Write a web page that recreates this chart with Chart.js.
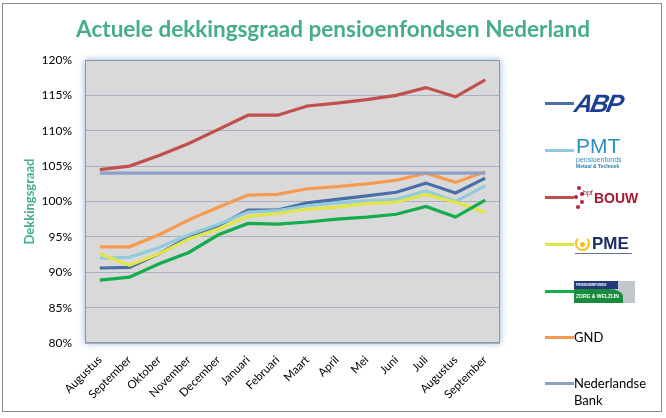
<!DOCTYPE html>
<html><head><meta charset="utf-8">
<script src="https://cdn.jsdelivr.net/npm/chart.js@4.4.0/dist/chart.umd.min.js"></script>
<style>
html,body{margin:0;padding:0;background:#fff;}
#wrap{position:relative;width:666px;height:418px;overflow:hidden;}
#frame{position:absolute;left:2px;top:3px;width:658px;height:407px;border:1px solid #8a8a8a;pointer-events:none;}
canvas{position:absolute;left:0;top:0;}
#legend{position:absolute;left:0;top:0;width:666px;height:418px;pointer-events:none;font-family:Lato,'Liberation Sans',sans-serif;}
.ln{position:absolute;left:545px;width:29px;height:3px;}
.lg{position:absolute;white-space:nowrap;}
</style></head>
<body><div id="wrap"><canvas id="c" width="666" height="418"></canvas><div id="legend"></div><div id="frame"></div></div>
<script>
const labels = ['Augustus','September','Oktober','November','December','Januari','Februari','Maart','April','Mei','Juni','Juli','Augustus','September'];
const abp  = [90.6,90.7,92.6,95.0,96.6,98.8,98.8,99.8,100.3,100.8,101.3,102.6,101.2,103.3];
const pmt  = [92.0,92.1,93.5,95.3,96.8,98.5,98.7,99.4,99.8,100.1,100.3,101.5,100.0,102.2];
const bouw = [104.5,105.0,106.5,108.2,110.2,112.2,112.2,113.5,113.9,114.4,115.0,116.1,114.8,117.2];
const pme  = [92.6,91.0,92.6,94.7,96.1,97.9,98.3,98.9,99.2,99.7,99.9,101.0,99.9,98.5];
const zorg = [88.9,89.3,91.2,92.8,95.3,96.9,96.8,97.1,97.5,97.8,98.2,99.3,97.8,100.2];
const gnd  = [93.6,93.6,95.3,97.4,99.2,100.9,101.0,101.8,102.1,102.5,103.0,104.0,102.7,104.2];
const dnb  = [104,104,104,104,104,104,104,104,104,104,104,104,104,104];
const yTicks = [80,85,90,95,100,105,110,115,120];

const seriesNames = ['ABP','PMT','bpfBOUW','PME','Zorg & Welzijn','GND','Nederlandse Bank'];
const seriesData = [abp,pmt,bouw,pme,zorg,gnd,dnb];
const seriesColors = ['#4a6ea8','#93cbdc','#c0504d','#e1e646','#14ac4c','#f79a50','#8da0c6'];

const plotBg = {
  id:'plotBg',
  beforeDraw(chart){
    const {ctx, chartArea:a} = chart;
    ctx.save();
    ctx.shadowColor='rgba(110,150,210,0.75)';
    ctx.shadowBlur=7;
    ctx.fillStyle='#d9d9d9';
    ctx.fillRect(a.left,a.top,a.right-a.left,a.bottom-a.top);
    ctx.restore();
  },
  afterDatasetsDraw(chart){
    const {ctx, chartArea:a} = chart;
    ctx.save();
    ctx.strokeStyle='#8c96a6';
    ctx.lineWidth=1;
    ctx.strokeRect(a.left+0.5,a.top+0.5,a.right-a.left-1,a.bottom-a.top-1);
    ctx.restore();
  }
};

const datasets = seriesNames.map((n,i)=>({
  label:n, data:seriesData[i], borderColor:seriesColors[i], backgroundColor:seriesColors[i],
  borderWidth:3.2, pointRadius:0, tension:0, fill:false, yAxisID:'y'
})).reverse();

new Chart(document.getElementById('c'),{
  type:'line',
  data:{labels, datasets},
  plugins:[plotBg],
  options:{
    responsive:false, animation:false,
    layout:{padding:{left:0,right:0,top:0,bottom:0}},
    plugins:{
      legend:{display:false},
      tooltip:{enabled:false},
      title:{display:true,text:'Actuele dekkingsgraad pensioenfondsen Nederland',
        color:'#45ad8c',font:{family:'Lato',size:22.5,weight:'bold'},
        padding:{top:16,bottom:17}}
    },
    scales:{
      x:{offset:true,grid:{display:false},border:{display:false},
        ticks:{color:'#000',font:{family:'Lato',size:11.5},maxRotation:45,minRotation:45,autoSkip:false,padding:2},
        afterFit(s){s.height=75;}},
      y:{min:80,max:120,position:'left',
        afterBuildTicks(s){s.ticks=yTicks.map(v=>({value:v}));},
        grid:{color:'#a8b0bf',lineWidth:1,drawTicks:false},border:{display:false},
        ticks:{color:'#000',font:{family:'Lato',size:12},padding:13,callback:v=>v+'%'},
        title:{display:true,text:'Dekkingsgraad',color:'#45ad8c',font:{family:'Lato',size:13,weight:'bold'},padding:{top:22,bottom:0}},
        afterFit(s){s.width=85;}},
      y2:{position:'right',display:true,grid:{display:false},border:{display:false},
        ticks:{display:false},afterFit(s){s.width=166;}}
    }
  }
});

// HTML legend built from the series arrays
const legendY = [103,150,197,244,291,337,383];
const logos = [
  `<div class="lg" style="left:575px;top:89px;font:italic 900 25px 'Liberation Sans',sans-serif;color:#1c3e93;letter-spacing:-2px;transform:skewX(-12deg)">ABP</div>`,
  `<div class="lg" style="left:576px;top:136px;font:400 21px 'Liberation Sans',sans-serif;color:#2a8fbf;line-height:20px">PMT</div>
   <div class="lg" style="left:576px;top:156px;font:400 7px 'Liberation Sans',sans-serif;color:#2a8fbf;line-height:7px">pensioenfonds</div>
   <div class="lg" style="left:576px;top:163px;font:700 5px 'Liberation Sans',sans-serif;color:#2a7fa8;line-height:6px">Metaal &amp; Techniek</div>`,
  `<div class="lg" style="left:573px;top:186px;width:12px;height:26px;">
     <div style="position:absolute;left:4px;top:0px;width:4px;height:4px;border-radius:2px;background:#b3213a"></div>
     <div style="position:absolute;left:7px;top:6px;width:4px;height:4px;border-radius:2px;background:#b3213a"></div>
     <div style="position:absolute;left:1px;top:9px;width:4px;height:4px;border-radius:2px;background:#b3213a"></div>
     <div style="position:absolute;left:7px;top:14px;width:4px;height:4px;border-radius:2px;background:#b3213a"></div>
     <div style="position:absolute;left:3px;top:19px;width:4px;height:4px;border-radius:2px;background:#b3213a"></div>
   </div>
   <div class="lg" style="left:583px;top:189px;font:400 7px 'Liberation Sans',sans-serif;color:#7a1a2a">bpf</div>
   <div class="lg" style="left:594px;top:190px;font:700 14px 'Liberation Sans Narrow','Liberation Sans',sans-serif;color:#a8182f">BOUW</div>`,
  `<div class="lg" style="left:575px;top:236px;width:11px;height:11px;border:2.5px solid #f2c21a;border-radius:50%;border-top-color:transparent"></div>
   <div class="lg" style="left:580px;top:242px;width:5px;height:5px;border-radius:50%;background:#f2c21a"></div>
   <div class="lg" style="left:592px;top:234px;font:700 17px 'Liberation Sans',sans-serif;color:#1c2e6a">PME</div>
   <div class="lg" style="left:575px;top:253px;width:57px;height:1px;background:#6a7390"></div>`,
  `<div class="lg" style="left:574px;top:281px;width:61px;height:22px;background:#c3c7cc;overflow:hidden">
     <div style="position:absolute;left:0;top:0;width:42px;height:8px;background:#223a78;color:#fff;font:700 3.5px 'Liberation Sans',sans-serif;line-height:8px;padding-left:2px">PENSIOENFONDS</div>
     <div style="position:absolute;left:0;top:8px;width:47px;height:14px;background:#1a8a3c;color:#fff;font:700 5px 'Liberation Sans',sans-serif;line-height:14px;padding-left:2px;border-top-right-radius:14px 8px">ZORG &amp; WELZIJN</div>
   </div>`,
  `<div class="lg" style="left:574px;top:329px;font:400 13px Lato,sans-serif;color:#000">GND</div>`,
  `<div class="lg" style="left:574px;top:375px;font:400 13px Lato,sans-serif;color:#000;line-height:17px">Nederlandse<br>Bank</div>`
];
const leg = document.getElementById('legend');
let html='';
seriesNames.forEach((n,i)=>{
  html += `<div class="ln" style="top:${legendY[i]-1}px;background:${seriesColors[i]}" title="${n}"></div>` + logos[i];
});
leg.innerHTML = html;
</script></body></html>
